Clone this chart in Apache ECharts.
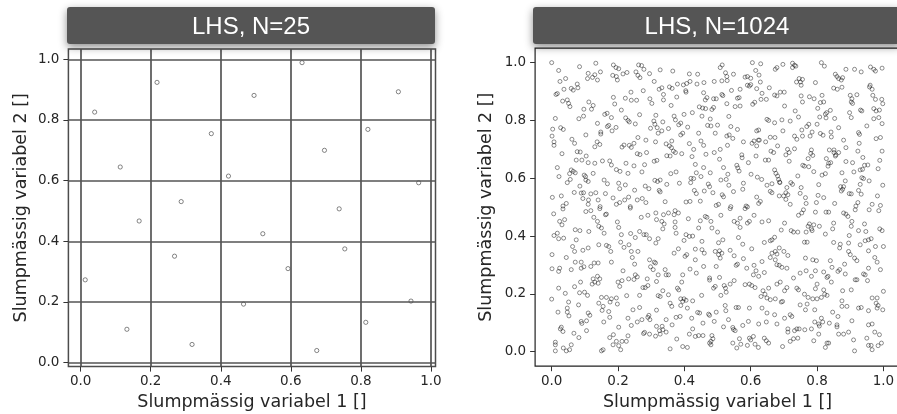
<!DOCTYPE html>
<html>
	<head>
		<meta charset="UTF-8">
		<title>LHS</title>
		<style type="text/css">
		  html, body { margin: 0; padding: 0; background: #fff; }
		  #chart { width: 897px; height: 414px; }
		</style>
	</head>
	<body>
	  <div id="chart"></div>
	  <script src="https://cdn.jsdelivr.net/npm/echarts@6/dist/echarts.min.js" type="text/javascript"></script>
	  <script type="text/javascript">
	  	// tick values / labels shared by both panels
	  	var tickValues = [0, 0.2, 0.4, 0.6, 0.8, 1.0];
	  	var tickLabels = ['0.0', '0.2', '0.4', '0.6', '0.8', '1.0'];
	  	var panelTitles = ['LHS, N=25', 'LHS, N=1024'];
	  	var xName = 'Slumpmässig variabel 1 []';
	  	var yName = 'Slumpmässig variabel 2 []';

	  	// N=25 sample
	  	var var1_25 = [0.040,0.218,0.113,0.013,0.167,0.132,0.268,0.287,0.318,0.373,0.422,0.465,0.495,0.520,0.592,0.632,0.674,0.696,0.738,0.754,0.814,0.820,0.907,0.943,0.965];
	  	var var2_25 = [0.826,0.924,0.645,0.273,0.467,0.110,0.351,0.531,0.060,0.755,0.615,0.193,0.881,0.425,0.310,0.989,0.040,0.700,0.507,0.375,0.133,0.769,0.893,0.203,0.593];

	  	// N=1024 sample, [variabel 1, variabel 2]
	  	var points1024 = [
[.000,1.000],[.084,.986],[.133,.998],[.186,.992],[.194,.983],[.202,.979],[.262,.992],[.271,.990],[.278,.977],[.021,.973],
[.110,.963],[.130,.958],[.147,.968],[.123,.949],[.184,.956],[.195,.952],[.215,.961],[.227,.966],[.254,.968],[.260,.956],[.266,.948],[.295,.962],[.042,.945],[.025,.935],[.108,.945],[.138,.940],[.198,.940],[.309,.935],
[.077,.926],[.059,.911],[.065,.905],[.079,.913],[.037,.908],[.017,.893],[.013,.890],[.239,.898],[.276,.903],[.324,.908],
[.033,.867],[.047,.871],[.051,.859],[.055,.848],[.112,.864],[.125,.852],[.120,.839],[.097,.839],[.186,.880],[.222,.877],[.240,.870],[.256,.870],[.296,.875],[.302,.859],[.210,.836],[.190,.857],
[.011,.807],[.082,.806],[.096,.815],[.160,.821],[.167,.825],[.180,.810],[.223,.809],[.230,.800],[.234,.795],[.265,.820],[.314,.818],[.308,.798],[.252,.788],
[.003,.770],[.027,.775],[.035,.769],[.138,.790],[.172,.783],[.168,.779],[.194,.776],[.182,.764],[.148,.760],[.148,.753],[.103,.750],[.001,.746],[.311,.787],[.298,.773],[.318,.775],[.321,.756],
[.061,.735],[.069,.721],[.007,.726],[.007,.714],[.137,.726],[.145,.717],[.130,.709],[.212,.708],[.218,.715],[.234,.714],[.240,.707],[.248,.721],[.260,.741],[.284,.732],[.313,.726],
[.031,.685],[.077,.692],[.086,.691],[.104,.677],[.091,.663],[.074,.663],[.110,.654],[.130,.652],[.153,.660],[.175,.660],[.180,.646],[.258,.685],[.266,.682],[.286,.689],[.224,.652],[.280,.647],[.309,.659],[.317,.662],
[.017,.637],[.195,.630],[.059,.629],[.065,.624],[.071,.619],[.054,.616],[.022,.606],[.098,.611],[.125,.617],[.206,.624],[.230,.617],[.248,.643],[.272,.622],
[.047,.585],[.056,.596],[.085,.573],[.102,.606],[.103,.594],[.110,.589],[.158,.594],[.168,.581],[.202,.583],[.205,.564],[.222,.577],[.282,.573],[.293,.564],[.311,.593],[.319,.589],[.250,.559],
[.002,.534],[.029,.539],[.068,.551],[.089,.549],[.096,.550],[.094,.530],[.118,.546],[.133,.550],[.162,.547],[.185,.532],[.111,.525],[.140,.525],[.034,.504],[.044,.513],[.110,.510],[.146,.502],[.195,.510],[.205,.516],[.220,.525],[.232,.535],[.258,.525],[.273,.530],[.284,.516],[.324,.558],[.237,.502],
[.327,.975],[.365,.971],[.514,.992],[.508,.983],[.605,1.000],[.630,.996],[.615,.973],
[.415,.961],[.440,.960],[.524,.965],[.528,.952],[.548,.960],[.583,.950],[.590,.952],[.600,.946],[.625,.957],[.379,.926],[.397,.923],[.407,.928],[.417,.935],[.438,.926],[.459,.931],[.490,.935],[.513,.937],[.529,.938],[.629,.933],[.590,.922],[.596,.919],[.600,.924],
[.355,.916],[.363,.911],[.337,.890],[.404,.903],[.377,.881],[.458,.896],[.513,.890],[.516,.886],[.542,.904],[.568,.908],[.618,.910],[.634,.894],[.656,.913],[.647,.873],[.488,.875],[.332,.913],[.405,.898],
[.337,.871],[.360,.852],[.463,.871],[.468,.879],[.445,.847],[.455,.843],[.464,.841],[.483,.838],[.488,.845],[.496,.875],[.528,.858],[.553,.848],[.560,.877],[.568,.850],[.565,.879],[.606,.856],[.612,.863],[.631,.873],
[.453,.815],[.478,.805],[.399,.821],[.424,.827],[.369,.815],[.534,.814],[.335,.795],[.373,.802],[.383,.785],[.389,.791],[.649,.804],[.654,.800],
[.352,.772],[.410,.777],[.470,.783],[.480,.781],[.500,.784],[.540,.779],[.560,.769],[.493,.756],[.443,.756],[.395,.756],[.389,.750],[.332,.764],[.618,.764],[.624,.767],[.659,.742],[.623,.732],[.528,.746],[.535,.750],[.546,.738],
[.362,.729],[.345,.719],[.355,.712],[.361,.706],[.367,.694],[.373,.689],[.415,.720],[.450,.729],[.458,.714],[.490,.689],[.465,.683],[.428,.700],[.392,.685],[.508,.700],[.530,.714],[.578,.726],[.604,.721],[.610,.729],[.618,.712],[.626,.732],[.645,.726],
[.347,.678],[.357,.677],[.423,.675],[.506,.666],[.573,.681],[.574,.671],[.616,.677],[.661,.694],[.644,.663],[.558,.645],[.561,.636],[.593,.654],[.433,.648],[.654,.663],
[.359,.616],[.375,.622],[.436,.619],[.458,.637],[.478,.619],[.518,.637],[.531,.614],[.565,.625],[.601,.614],[.620,.604],[.633,.596],[.649,.576],
[.327,.594],[.347,.579],[.385,.583],[.420,.600],[.428,.599],[.419,.585],[.450,.606],[.472,.580],[.476,.571],[.510,.594],[.526,.596],[.534,.576],[.578,.583],[.659,.555],
[.327,.553],[.430,.558],[.436,.547],[.460,.556],[.486,.550],[.514,.543],[.518,.536],[.548,.554],[.576,.562],[.618,.535],[.629,.520],[.342,.519],[.405,.518],[.417,.520],[.448,.521],[.496,.506],[.503,.510],[.540,.502],[.586,.504],[.590,.501],[.624,.513],
[.674,.977],[.679,.983],[.697,.994],[.726,.998],[.732,.991],[.726,.983],[.736,.988],[.813,1.000],[.822,.988],[.887,.977],[.913,.977],[.933,.968],[.961,.985],[.971,.977],[.976,.971],[.996,.981],
[.855,.960],[.860,.952],[.865,.945],[.873,.940],[.877,.948],[.746,.945],[.756,.942],[.750,.933],[.738,.933],[.795,.931],[.752,.922],[.960,.922],[.966,.908],[.958,.916],
[.850,.912],[.861,.908],[.875,.915],[.689,.898],[.701,.898],[.672,.888],[.679,.885],[.752,.885],[.777,.882],[.791,.875],[.815,.887],[.900,.887],[.905,.875],[.920,.889],[.968,.887],[.976,.873],[.995,.873],
[.756,.864],[.810,.862],[.820,.864],[.802,.842],[.903,.864],[.907,.859],[.702,.850],[.734,.833],[.744,.812],[.829,.827],[.840,.835],[.825,.822],[.898,.827],[.931,.836],[.935,.833],[.971,.841],[.978,.833],[.988,.836],[.998,.858],
[.694,.802],[.719,.798],[.808,.812],[.827,.809],[.853,.807],[.903,.810],[.971,.806],[.996,.789],[.775,.787],[.769,.779],[.754,.767],[.672,.792],[.950,.781],[.986,.810],
[.800,.787],[.865,.775],[.925,.758],[.928,.752],[.697,.764],[.732,.746],[.739,.735],[.756,.746],[.779,.746],[.785,.760],[.810,.755],[.818,.749],[.842,.760],[.843,.743],[.880,.732],[.978,.737],[.991,.741],[.673,.741],
[.681,.712],[.711,.700],[.716,.689],[.732,.702],[.783,.698],[.781,.686],[.787,.679],[.837,.698],[.851,.698],[.851,.689],[.857,.681],[.865,.689],[.855,.677],[.887,.706],[.923,.694],[.927,.721],[.996,.694],[.669,.689],
[.706,.681],[.716,.659],[.773,.668],[.757,.645],[.762,.642],[.790,.623],[.775,.640],[.828,.668],[.835,.652],[.841,.654],[.887,.658],[.907,.654],[.938,.672],[.943,.645],[.953,.646],[.930,.629],[.937,.631],[.984,.633],[.989,.662],
[.672,.629],[.676,.617],[.681,.608],[.684,.596],[.688,.585],[.742,.608],[.815,.611],[.825,.616],[.833,.642],[.875,.619],[.911,.622],[.957,.591],[.940,.599],[.935,.602],
[.664,.581],[.721,.585],[.726,.579],[.709,.568],[.752,.568],[.805,.578],[.871,.571],[.877,.562],[.880,.571],[.885,.591],[.930,.579],[.998,.576],[.687,.587],
[.706,.550],[.712,.543],[.699,.539],[.686,.539],[.749,.548],[.765,.533],[.803,.541],[.820,.533],[.897,.547],[.903,.546],[.873,.556],[.925,.558],[.933,.545],[.982,.539],[.706,.527],[.719,.510],[.767,.513],[.798,.516],[.853,.513],[.917,.504],[.923,.516],[.966,.510],[.991,.506],[.664,.550],
[.006,.477],[.034,.494],[.103,.485],[.118,.488],[.145,.495],[.165,.476],[.162,.474],[.024,.451],[.031,.439],[.039,.457],[.127,.465],[.138,.451],[.142,.434],[.150,.428],[.198,.449],[.202,.430],[.270,.465],[.290,.472],[.314,.480],[.316,.457],[.237,.497],
[.007,.402],[.017,.410],[.021,.391],[.036,.393],[.071,.422],[.085,.419],[.112,.416],[.158,.410],[.210,.405],[.238,.409],[.252,.395],[.278,.405],[.285,.405],[.295,.391],[.265,.416],
[.074,.387],[.063,.364],[.069,.347],[.094,.351],[.110,.359],[.142,.370],[.165,.368],[.172,.364],[.208,.379],[.218,.361],[.233,.370],[.314,.376],[.321,.391],
[.001,.336],[.044,.326],[.071,.310],[.089,.310],[.097,.294],[.118,.295],[.128,.307],[.140,.307],[.178,.347],[.180,.310],[.240,.347],[.243,.326],[.260,.347],[.250,.303],[.295,.318],[.309,.310],[.313,.307],
[.001,.287],[.024,.289],[.021,.278],[.059,.284],[.089,.289],[.215,.280],[.252,.266],[.258,.259],[.298,.294],[.306,.284],[.321,.266],
[.125,.252],[.122,.234],[.130,.241],[.138,.261],[.145,.252],[.140,.237],[.200,.241],[.205,.226],[.212,.246],[.232,.252],[.248,.250],[.288,.252],[.275,.222],[.282,.222],[.290,.229],[.316,.243],[.021,.220],[.069,.225],[.087,.241],
[.041,.202],[.084,.204],[.099,.206],[.108,.195],[.150,.188],[.165,.188],[.180,.183],[.195,.186],[.226,.194],[.265,.195],[.321,.194],[.000,.182],[.051,.172],[.081,.162],[.142,.168],[.155,.157],[.176,.172],[.198,.165],
[.047,.151],[.047,.137],[.052,.124],[.019,.137],[.110,.134],[.115,.126],[.152,.143],[.172,.139],[.245,.145],[.265,.153],[.272,.111],[.290,.119],[.293,.126],[.316,.144],
[.175,.119],[.230,.116],[.089,.105],[.091,.098],[.105,.107],[.157,.103],[.240,.091],[.202,.085],[.258,.103],[.296,.111],[.316,.088],[.029,.085],[.026,.079],
[.034,.070],[.067,.064],[.082,.049],[.105,.073],[.186,.059],[.175,.049],[.230,.055],[.280,.067],[.277,.063],[.295,.061],[.313,.054],[.325,.073],[.212,.036],[.225,.036],[.195,.036],
[.011,.033],[.011,.024],[.059,.024],[.035,.013],[.202,.021],[.185,.024],[.011,.003],[.044,.003],[.054,.007],[.150,.003],[.155,.007],[.208,.007],
[.337,.474],[.352,.480],[.372,.488],[.369,.474],[.382,.480],[.412,.460],[.448,.453],[.463,.468],[.468,.465],[.480,.451],[.510,.472],[.538,.495],[.550,.451],[.568,.462],[.560,.445],[.583,.495],[.590,.445],[.596,.451],[.610,.472],[.634,.449],[.654,.453],[.332,.451],[.339,.442],[.372,.449],[.372,.430],[.375,.410],
[.443,.428],[.483,.428],[.500,.414],[.568,.430],[.405,.405],[.415,.399],[.425,.400],[.399,.385],[.453,.382],[.335,.425],
[.503,.377],[.516,.387],[.563,.395],[.576,.372],[.603,.356],[.641,.378],[.659,.384],[.382,.356],[.433,.355],[.453,.353],[.460,.341],[.369,.341],[.506,.349],[.513,.341],
[.402,.330],[.407,.336],[.433,.318],[.493,.347],[.503,.336],[.508,.324],[.538,.351],[.550,.332],[.578,.322],[.634,.312],[.659,.326],[.458,.295],[.496,.295],[.556,.299],[.560,.303],
[.342,.284],[.345,.266],[.352,.266],[.417,.286],[.436,.272],[.588,.289],[.610,.299],[.616,.280],[.624,.261],[.641,.274],[.608,.266],
[.395,.266],[.392,.241],[.476,.255],[.476,.248],[.506,.257],[.488,.220],[.493,.226],[.520,.229],[.524,.220],[.538,.234],[.550,.246],[.583,.232],[.596,.234],[.603,.229],[.613,.222],[.637,.211],[.654,.220],[.335,.211],[.379,.220],[.383,.214],
[.352,.197],[.389,.183],[.399,.183],[.395,.174],[.405,.178],[.425,.176],[.452,.195],[.510,.195],[.526,.206],[.631,.191],[.643,.199],[.649,.186],[.659,.180],[.327,.191],
[.357,.168],[.362,.157],[.389,.160],[.409,.151],[.440,.136],[.446,.134],[.473,.130],[.476,.126],[.496,.137],[.523,.160],[.525,.142],[.556,.153],[.563,.153],[.596,.151],[.634,.151],[.649,.134],[.375,.119],[.387,.122],[.345,.111],
[.422,.116],[.456,.099],[.490,.105],[.533,.111],[.546,.084],[.576,.091],[.593,.105],[.624,.096],[.647,.103],[.333,.088],[.335,.076],[.363,.093],
[.345,.068],[.377,.044],[.415,.061],[.425,.079],[.433,.053],[.443,.056],[.456,.056],[.483,.056],[.486,.045],[.480,.036],[.518,.086],[.548,.077],[.553,.073],[.566,.045],[.596,.047],[.600,.041],[.608,.053],[.641,.047],[.647,.038],[.327,.061],
[.476,.030],[.480,.024],[.546,.030],[.570,.026],[.558,.013],[.590,.022],[.613,.026],[.623,.015],[.654,.030],[.395,.018],[.409,.015],[.357,.010],
[.759,.491],[.754,.480],[.744,.472],[.795,.483],[.827,.483],[.835,.483],[.880,.480],[.887,.476],[.893,.468],[.915,.491],[.957,.491],[.986,.488],[.905,.451],[.903,.434],[.850,.445],[.847,.425],[.702,.445],[.777,.442],[.790,.439],[.773,.434],[.807,.434],[.943,.442],
[.692,.421],[.722,.419],[.729,.414],[.742,.414],[.767,.414],[.783,.425],[.785,.419],[.825,.407],[.897,.402],[.925,.419],[.947,.416],[.989,.425],[.996,.419],[.672,.396],[.664,.387],
[.762,.379],[.770,.379],[.850,.378],[.870,.372],[.868,.359],[.895,.376],[.930,.370],[.945,.384],[.955,.387],[.963,.391],[.976,.364],[.686,.359],[.700,.347],[.712,.333],[.674,.347],[.679,.338],[.664,.341],
[.895,.347],[.900,.336],[.955,.349],[1.000,.364],[.765,.324],[.787,.318],[.798,.315],[.840,.315],[.913,.324],[.920,.315],[.974,.326],[.981,.310],[.674,.318],[.679,.301],[.694,.292],[.709,.289],[.686,.299],
[.883,.303],[.845,.292],[.767,.280],[.795,.280],[.749,.272],[.863,.278],[.868,.284],[.820,.276],[.833,.261],[.830,.257],[.940,.269],[.945,.266],[.885,.269],[.955,.289],[.991,.284],[.729,.255],
[.783,.261],[.843,.241],[.915,.249],[.920,.249],[.952,.246],[.679,.234],[.689,.241],[.709,.222],[.702,.211],[.739,.220],[.744,.214],[.795,.218],[.800,.234],[.820,.214],[.823,.199],[.830,.195],[.877,.211],[.903,.214],[1.000,.209],
[.762,.199],[.773,.188],[.787,.183],[.800,.183],[.813,.188],[.674,.183],[.692,.172],[.696,.174],[.749,.162],[.770,.165],[.875,.176],[.875,.157],[.890,.157],[.966,.186],[.981,.186],[.978,.168],[.984,.160],[.925,.151],[.933,.153],
[.765,.145],[.793,.145],[.847,.137],[.672,.128],[.702,.116],[.719,.128],[.724,.122],[.813,.116],[.817,.103],[.863,.122],[.905,.107],[.955,.142],[.981,.151],[.998,.145],
[.679,.096],[.712,.079],[.739,.079],[.746,.079],[.793,.103],[.805,.096],[.807,.089],[.837,.099],[.860,.093],[.860,.086],[.955,.093],[.966,.096],[.763,.076],[.783,.079],[.732,.073],
[.712,.068],[.719,.036],[.729,.045],[.742,.047],[.790,.038],[.805,.061],[.865,.061],[.880,.061],[.895,.068],[.830,.030],[.910,.041],[.950,.047],[.974,.068],[.988,.059],
[.696,.018],[.825,.015],[.835,.030],[.913,.003],[.955,.022],[.963,.022],[.966,.007],[.984,.021],[.994,.030]
	  	];

	  	var axisFont = 'DejaVu Sans';

	  	function makeAxis(dim, gridIndex, min, max, name, nameGap) {
	  	  return {
	  	  	type: 'value',
	  	  	gridIndex: gridIndex,
	  	  	min: min,
	  	  	max: max,
	  	  	name: name,
	  	  	nameLocation: 'middle',
	  	  	nameGap: nameGap,
	  	  	nameRotate: dim == 'y' ? 90 : 0,
	  	  	nameTextStyle: { fontFamily: axisFont, fontSize: 17.5, color: '#262626' },
	  	  	axisLine: { show: false, onZero: false },
	  	  	axisTick: {
	  	  	  show: true,
	  	  	  inside: false,
	  	  	  length: 5,
	  	  	  customValues: tickValues,
	  	  	  lineStyle: { color: '#333', width: 1 }
	  	  	},
	  	  	axisLabel: {
	  	  	  customValues: tickValues,
	  	  	  margin: dim == 'y' ? 9 : 8,
	  	  	  fontFamily: axisFont,
	  	  	  fontSize: 13.5,
	  	  	  color: '#262626',
	  	  	  formatter: function (v) {
	  	  	  	var i = tickValues.indexOf(v);
	  	  	  	return i >= 0 ? tickLabels[i] : '';
	  	  	  }
	  	  	},
	  	  	splitLine: { show: false }
	  	  };
	  	}

	  	function pointStyle(color) {
	  	  return {
	  	  	color: 'rgba(0,0,0,0)',
	  	  	borderColor: color,
	  	  	borderWidth: 1
	  	  };
	  	}

	  	var data25 = var1_25.map(function (x, i) { return [x, var2_25[i]]; });
	  	var gridLines = tickValues.map(function (v) { return { xAxis: v }; })
	  	  .concat(tickValues.map(function (v) { return { yAxis: v }; }));

	  	var titleBars = [];
	  	[[67, 251], [533, 717]].forEach(function (p, i) {
	  	  titleBars.push({
	  	  	type: 'rect',
	  	  	shape: { x: p[0], y: 7, width: 368, height: 37, r: 3 },
	  	  	style: {
	  	  	  fill: '#555555',
	  	  	  shadowBlur: 8,
	  	  	  shadowColor: 'rgba(0,0,0,0.45)',
	  	  	  shadowOffsetY: 3
	  	  	},
	  	  	z: 100
	  	  });
	  	  titleBars.push({
	  	  	type: 'text',
	  	  	x: p[1],
	  	  	y: 27,
	  	  	style: {
	  	  	  text: panelTitles[i],
	  	  	  fill: '#ffffff',
	  	  	  font: '24px "Liberation Sans"',
	  	  	  textAlign: 'center',
	  	  	  textVerticalAlign: 'middle'
	  	  	},
	  	  	z: 101
	  	  });
	  	});

	  	var chart = echarts.init(document.getElementById('chart'), null, { renderer: 'canvas' });
	  	chart.setOption({
	  	  animation: false,
	  	  backgroundColor: '#ffffff',
	  	  grid: [
	  	  	{
	  	  	  left: 68.4, top: 49, width: 367.1, height: 317.6,
	  	  	  show: true, borderColor: '#4d4d4d', borderWidth: 1.5,
	  	  	  backgroundColor: 'rgba(0,0,0,0)',
	  	  	  containLabel: false, outerBoundsMode: 'none'
	  	  	},
	  	  	{
	  	  	  left: 535.1, top: 48.2, width: 364.9, height: 318,
	  	  	  show: true, borderColor: '#222', borderWidth: 1.2,
	  	  	  backgroundColor: 'rgba(0,0,0,0)',
	  	  	  containLabel: false, outerBoundsMode: 'none'
	  	  	}
	  	  ],
	  	  xAxis: [
	  	  	makeAxis('x', 0, -0.035, 1.013, xName, 26),
	  	  	makeAxis('x', 1, -0.05, 1.05, xName, 26)
	  	  ],
	  	  yAxis: [
	  	  	makeAxis('y', 0, -0.013, 1.034, yName, 38),
	  	  	makeAxis('y', 1, -0.05, 1.05, yName, 40)
	  	  ],
	  	  graphic: titleBars,
	  	  series: [
	  	  	{
	  	  	  type: 'scatter',
	  	  	  xAxisIndex: 0,
	  	  	  yAxisIndex: 0,
	  	  	  data: data25,
	  	  	  symbol: 'circle',
	  	  	  symbolSize: 4.2,
	  	  	  itemStyle: pointStyle('rgba(40,40,40,0.7)'),
	  	  	  emphasis: { disabled: true },
	  	  	  silent: true,
	  	  	  markLine: {
	  	  	  	silent: true,
	  	  	  	symbol: ['none', 'none'],
	  	  	  	label: { show: false },
	  	  	  	emphasis: { disabled: true },
	  	  	  	lineStyle: { color: '#555', width: 1.7, type: 'solid' },
	  	  	  	data: gridLines
	  	  	  }
	  	  	},
	  	  	{
	  	  	  type: 'scatter',
	  	  	  xAxisIndex: 1,
	  	  	  yAxisIndex: 1,
	  	  	  data: points1024,
	  	  	  symbol: 'circle',
	  	  	  symbolSize: 4,
	  	  	  large: false,
	  	  	  progressive: 0,
	  	  	  itemStyle: pointStyle('rgba(0,0,0,0.55)'),
	  	  	  emphasis: { disabled: true },
	  	  	  silent: true
	  	  	}
	  	  ]
	  	});
	  </script>
	</body>
</html>
